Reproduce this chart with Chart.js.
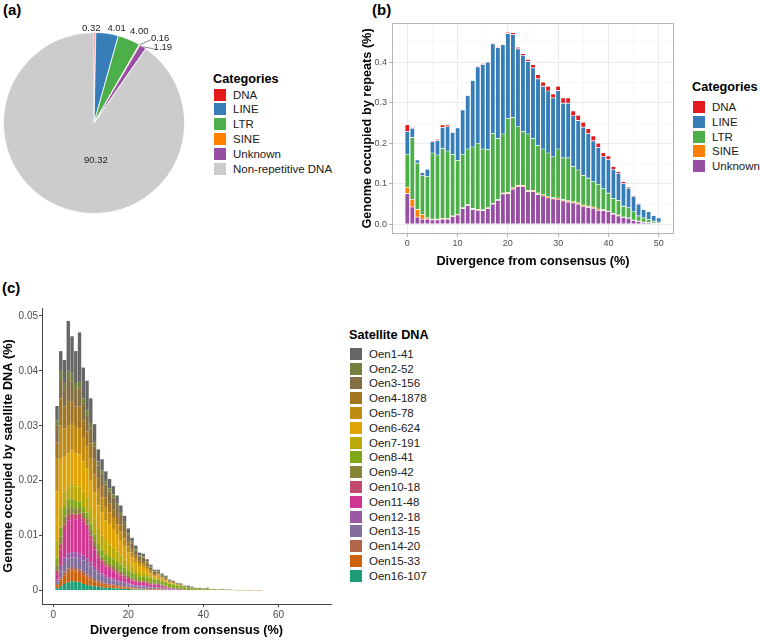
<!DOCTYPE html>
<html>
<head>
<meta charset="utf-8">
<script src="https://cdn.jsdelivr.net/npm/chart.js@4.4.1/dist/chart.umd.min.js"></script>
<style>
  body { margin: 0; background: #fff; width: 760px; height: 640px; position: relative; overflow: hidden;
         font-family: "Liberation Sans", Arial, Helvetica, sans-serif; color: #000; }
  canvas { position: absolute; }
  .tag { position: absolute; font-weight: bold; font-size: 15px; line-height: 16px; }
  .legend { position: absolute; top: 0; }
  .lg-title { position: absolute; left: 0; font-weight: bold; font-size: 12.7px; line-height: 16px; white-space: nowrap; }
  .lg-key { position: absolute; left: 0; width: 14px; height: 14px; box-sizing: border-box; border: 0.5px solid #fff; }
  .lg-text { position: absolute; left: 20px; font-size: 11.5px; line-height: 14px; white-space: nowrap; color: #1a1a1a; }
</style>
</head>
<body>
<div class="tag" style="left:3px;top:2px">(a)</div>
<div class="tag" style="left:372px;top:2px">(b)</div>
<div class="tag" style="left:2px;top:280px">(c)</div>

<canvas id="pie-chart" width="200" height="230" style="left:0;top:0"></canvas>
<canvas id="repeat-chart" width="320" height="272" style="left:360px;top:0"></canvas>
<canvas id="satellite-chart" width="340" height="370" style="left:0;top:270px"></canvas>

<div id="legend-a" class="legend" style="left:213px"></div>
<div id="legend-b" class="legend" style="left:692px"></div>
<div id="legend-c" class="legend" style="left:349px"></div>

<script>
// (a) genome composition, %
const pieCategories = ['DNA', 'LINE', 'LTR', 'SINE', 'Unknown', 'Non-repetitive DNA'];
const pieValues = [0.32, 4.01, 4.00, 0.16, 1.19, 90.32];
const pieColors = ['#E41A1C', '#377EB8', '#4DAF4A', '#FF7F00', '#984EA3', '#CCCCCC'];
// where each value label sits, as a fraction of the pie radius from its centre
const pieLabelAnchors = [[-0.03, -1.04], [0.25, -1.04], [0.5, -1.01], [0.73, -0.93], [0.76, -0.83], [0.02, 0.41]];
const pieLeaderLines = [false, false, false, true, true, false];

// (b) repeat landscape, one bar per divergence %
const repeatTypes = ['DNA', 'LINE', 'LTR', 'SINE', 'Unknown'];
const repeatColors = ['#E41A1C', '#377EB8', '#4DAF4A', '#FF7F00', '#984EA3'];
const divergenceB = Array.from({ length: 51 }, (_, i) => i);
const dnaB = [0.017, 0.002, 0.002, 0.001, 0.001, 0.002, 0.003, 0.006, 0.004, 0.001, 0.002,
  0.001, 0.001, 0.001, 0.002, 0.003, 0.002, 0.002, 0.003, 0.001, 0.003,
  0.005, 0.004, 0.004, 0.005, 0.008, 0.010, 0.010, 0.012, 0.010, 0.011,
  0.013, 0.013, 0.012, 0.013, 0.012, 0.012, 0.012, 0.010, 0.010, 0.009,
  0.007, 0.004, 0.004, 0.003, 0.003, 0.002, 0.001, 0.001, 0.0005, 0.0005];
const lineB = [0.056, 0.023, 0.008, 0.008, 0.018, 0.028, 0.036, 0.052, 0.060, 0.055, 0.080,
  0.109, 0.132, 0.164, 0.188, 0.208, 0.215, 0.221, 0.224, 0.220, 0.210,
  0.204, 0.192, 0.188, 0.179, 0.174, 0.164, 0.155, 0.153, 0.145, 0.144,
  0.135, 0.135, 0.125, 0.122, 0.119, 0.110, 0.101, 0.091, 0.079, 0.083,
  0.072, 0.067, 0.056, 0.048, 0.037, 0.029, 0.021, 0.019, 0.014, 0.010];
const ltrB = [0.082, 0.152, 0.114, 0.095, 0.102, 0.163, 0.158, 0.172, 0.166, 0.151, 0.133,
  0.132, 0.137, 0.152, 0.163, 0.150, 0.144, 0.172, 0.151, 0.146, 0.182,
  0.174, 0.145, 0.133, 0.139, 0.128, 0.118, 0.113, 0.108, 0.101, 0.121,
  0.103, 0.106, 0.087, 0.081, 0.073, 0.069, 0.062, 0.061, 0.052, 0.044,
  0.037, 0.036, 0.027, 0.025, 0.020, 0.013, 0.010, 0.0075, 0.0045, 0.003];
const sineB = [0.015, 0.019, 0.019, 0.012, 0.003, 0.002, 0.002, 0.002, 0.002, 0.002, 0.002,
  0.002, 0.002, 0.002, 0.002, 0.002, 0.002, 0.002, 0.002, 0.002, 0.003,
  0.003, 0.003, 0.003, 0.003, 0.003, 0.003, 0.003, 0.003, 0.003, 0.003,
  0.003, 0.003, 0.003, 0.003, 0.003, 0.003, 0.003, 0.003, 0.002, 0.002,
  0.002, 0.002, 0.001, 0.001, 0.001, 0.001, 0.001, 0.0005, 0.0005, 0.0005];
const unknownB = [0.076, 0.043, 0.018, 0.013, 0.013, 0.011, 0.011, 0.013, 0.013, 0.019, 0.023,
  0.039, 0.047, 0.037, 0.035, 0.034, 0.039, 0.050, 0.059, 0.075, 0.076,
  0.087, 0.093, 0.093, 0.081, 0.081, 0.074, 0.070, 0.065, 0.063, 0.062,
  0.058, 0.055, 0.053, 0.050, 0.045, 0.042, 0.040, 0.035, 0.034, 0.031,
  0.025, 0.021, 0.017, 0.015, 0.010, 0.007, 0.005, 0.004, 0.003, 0.0025];
const repeatSeries = [dnaB, lineB, ltrB, sineB, unknownB];

// (c) satellite DNA landscape, divergence 1..55 %
const satNames = ['Oen1-41', 'Oen2-52', 'Oen3-156', 'Oen4-1878', 'Oen5-78', 'Oen6-624', 'Oen7-191', 'Oen8-41',
  'Oen9-42', 'Oen10-18', 'Oen11-48', 'Oen12-18', 'Oen13-15', 'Oen14-20', 'Oen15-33', 'Oen16-107'];
const satColors = ['#666666', '#748040', '#846E44', '#A27522', '#C08B12', '#DEA406', '#BBA90B', '#80A718',
  '#88853B', '#C44A6D', '#D03792', '#9B58A5', '#826E9C', '#B16649', '#CC630A', '#1B9E77'];
const divergenceC = Array.from({ length: 55 }, (_, i) => i + 1);
const oen1 = [0.0026, 0.0036, 0.0042, 0.0091, 0.0068, 0.0058, 0.0090, 0.0056, 0.0054, 0.0045, 0.0033, 0.0022, 0.0020, 0.0018,
  0.0017, 0.0015, 0.0014, 0.0012, 0.0011, 0.0009, 0.0007, 0.0006, 0.0005, 0.0005, 0.0004, 0.0003, 0.0003, 0.0002,
  0.0002, 0.0002, 0.0001, 0.0001, 0.0001, 0.0001, 0.0001, 0.0001, 0.0001, 0.0001, 0.0001, 0.0001, 0.0001];
const oen2 = [0.0010, 0.0015, 0.0013, 0.0015, 0.0015, 0.0013, 0.0012, 0.0010, 0.0010, 0.0010, 0.0008, 0.0007, 0.0006, 0.0006,
  0.0006, 0.0006, 0.0005, 0.0005, 0.0004, 0.0003, 0.0003, 0.0003, 0.0002, 0.0002, 0.0002, 0.0002, 0.0001, 0.0001,
  0.0001, 0.0001, 0.0001, 0.0001, 0.0001, 0.0001, 0.0001, 0.0002, 0.0001, 0.0001, 0.0001, 0.0001, 0.0001, 0.0001,
  0.0001, 0.0001, 0.0001, 0.0001, 0.0001, 0.00004, 0.00004, 0.00003];
const oen3 = [0.0030, 0.0035, 0.0030, 0.0040, 0.0035, 0.0030, 0.0033, 0.0030, 0.0028, 0.0027, 0.0024, 0.0023, 0.0023, 0.0023,
  0.0022, 0.0022, 0.0020, 0.0018, 0.0016, 0.0013, 0.0011, 0.0009, 0.0008, 0.0008, 0.0007, 0.0006, 0.0004, 0.0004,
  0.0003, 0.0003, 0.0002, 0.0002, 0.0001, 0.0001, 0.0001, 0.0001, 0.0001];
const oen4 = [0.0030, 0.0050, 0.0040, 0.0045, 0.0040, 0.0037, 0.0040, 0.0032, 0.0028, 0.0028, 0.0026, 0.0020, 0.0020, 0.0018,
  0.0016, 0.0015, 0.0014, 0.0012, 0.0010, 0.0008, 0.0006, 0.0005, 0.0004, 0.0004, 0.0003, 0.0002, 0.0002, 0.0002,
  0.0001, 0.0001, 0.0001];
const oen5 = [0.0060, 0.0060, 0.0050, 0.0050, 0.0050, 0.0048, 0.0047, 0.0043, 0.0040, 0.0040, 0.0034, 0.0030, 0.0028, 0.0024,
  0.0022, 0.0020, 0.0018, 0.0016, 0.0014, 0.0011, 0.0009, 0.0007, 0.0006, 0.0005, 0.0004, 0.0003, 0.0002, 0.0002,
  0.0002, 0.0001, 0.0001, 0.0001, 0.0001, 0.0001];
const oen6 = [0.0090, 0.0090, 0.0065, 0.0060, 0.0060, 0.0060, 0.0058, 0.0055, 0.0052, 0.0050, 0.0048, 0.0043, 0.0042, 0.0038,
  0.0036, 0.0034, 0.0031, 0.0028, 0.0024, 0.0019, 0.0016, 0.0013, 0.0010, 0.0010, 0.0007, 0.0005, 0.0004, 0.0004,
  0.0003, 0.0002, 0.0001, 0.0001];
const oen7 = [0.0030, 0.0035, 0.0028, 0.0025, 0.0027, 0.0027, 0.0028, 0.0028, 0.0028, 0.0028, 0.0028, 0.0027, 0.0026, 0.0024,
  0.0023, 0.0021, 0.0019, 0.0017, 0.0015, 0.0013, 0.0011, 0.0009, 0.0008, 0.0007, 0.0006, 0.0005, 0.0003, 0.0003,
  0.0002, 0.0002, 0.0001, 0.0001, 0.0001, 0.0001];
const oen8 = [0.0015, 0.0017, 0.0017, 0.0015, 0.0016, 0.0013, 0.0012, 0.0010, 0.0012, 0.0012, 0.0012, 0.0012, 0.0012, 0.0011,
  0.0011, 0.0011, 0.0011, 0.0011, 0.0010, 0.0009, 0.0009, 0.0008, 0.0007, 0.0007, 0.0007, 0.0006, 0.0006, 0.0006,
  0.0006, 0.0006, 0.0006, 0.0006, 0.0005, 0.0005, 0.0004, 0.0004, 0.0003, 0.0003, 0.0003, 0.0002, 0.0003, 0.0002,
  0.0002, 0.0001, 0.0002, 0.0001, 0.0001, 0.00008, 0.00006, 0.00005, 0.00004, 0.00003, 0.00002];
const oen9 = [0.0009, 0.0013, 0.0015, 0.0014, 0.0012, 0.0012, 0.0010, 0.0010, 0.0010, 0.0010, 0.0009, 0.0008, 0.0007, 0.0007,
  0.0007, 0.0007, 0.0007, 0.0006, 0.0005, 0.0005, 0.0004, 0.0004, 0.0003, 0.0003, 0.0003, 0.0003, 0.0002, 0.0002,
  0.0002, 0.0002, 0.0001, 0.0001, 0.0001, 0.0001, 0.0001, 0.0001, 0.0001];
const oen10 = [0.0006, 0.0010, 0.0008, 0.0008, 0.0008, 0.0008, 0.0008, 0.0007, 0.0008, 0.0007, 0.0006, 0.0005, 0.0005, 0.0004,
  0.0004, 0.0004, 0.0003, 0.0003, 0.0003, 0.0002, 0.0002, 0.0002, 0.0002, 0.0002, 0.0002, 0.0001, 0.0001, 0.0001,
  0.0001, 0.0001, 0.0001, 0.0001, 0.0001];
const oen11 = [0.0010, 0.0030, 0.0052, 0.0060, 0.0062, 0.0060, 0.0064, 0.0061, 0.0054, 0.0042, 0.0032, 0.0024, 0.0019, 0.0017,
  0.0015, 0.0013, 0.0012, 0.0010, 0.0009, 0.0008, 0.0007, 0.0006, 0.0005, 0.0005, 0.0004, 0.0004, 0.0004, 0.0005,
  0.0003, 0.0002, 0.0001, 0.0001, 0, 0.0001, 0.0001];
const oen12 = [0.0004, 0.0010, 0.0010, 0.0010, 0.0010, 0.0010, 0.0010, 0.0009, 0.0008, 0.0007, 0.0006, 0.0005, 0.0004, 0.0004,
  0.0004, 0.0004, 0.0003, 0.0003, 0.0003, 0.0002, 0.0002, 0.0002, 0.0002, 0.0002, 0.0002, 0.0002, 0.0001, 0.0001,
  0.0001, 0.0001, 0.0001, 0, 0.0001];
const oen13 = [0.0004, 0.0011, 0.0017, 0.0018, 0.0017, 0.0019, 0.0020, 0.0021, 0.0021, 0.0019, 0.0016, 0.0013, 0.0012, 0.0010,
  0.0008, 0.0007, 0.0006, 0.0005, 0.0004, 0.0004, 0.0003, 0.0003, 0.0003, 0.0003, 0.0003, 0.0002, 0.0002, 0.0002,
  0.0002, 0.0001, 0.0001, 0.0001];
const oen14 = [0.0002, 0.0004, 0.0005, 0.0006, 0.0006, 0.0006, 0.0006, 0.0006, 0.0005, 0.0005, 0.0004, 0.0004, 0.0003, 0.0003,
  0.0003, 0.0003, 0.0003, 0.0003, 0.0003, 0.0002, 0.0002, 0.0001, 0.0001, 0.0001, 0.0001, 0.0001, 0.0001, 0.0001,
  0, 0.0001, 0, 0, 0.0001, 0.0001];
const oen15 = [0.0006, 0.0012, 0.0016, 0.0019, 0.0020, 0.0019, 0.0017, 0.0016, 0.0014, 0.0011, 0.0009, 0.0007, 0.0006, 0.0005,
  0.0004, 0.0004, 0.0003, 0.0003, 0.0002, 0.0002, 0.0002, 0.0002, 0.0001, 0.0001, 0.0001, 0.0001, 0.0001, 0.0001,
  0.0001, 0, 0.0001, 0.0001, 0, 0, 0, 0, 0, 0, 0, 0, 0, 0,
  0, 0, 0, 0, 0, 0, 0, 0, 0, 0.00002, 0.00005, 0.00004, 0.00002];
const oen16 = [0.0004, 0.0008, 0.0012, 0.0015, 0.0017, 0.0016, 0.0015, 0.0012, 0.0010, 0.0009, 0.0008, 0.0007, 0.0006, 0.0005,
  0.0005, 0.0004, 0.0004, 0.0003, 0.0003, 0.0003, 0.0002, 0.0002, 0.0002, 0.0002, 0.0001, 0.0001, 0.0001, 0.0001,
  0.0001, 0.0001];
const satSeries = [oen1, oen2, oen3, oen4, oen5, oen6, oen7, oen8, oen9, oen10, oen11, oen12, oen13, oen14, oen15, oen16];

const FONT = '"Liberation Sans", Arial, Helvetica, sans-serif';
Chart.defaults.font.family = FONT;
Chart.defaults.animation = false;
Chart.defaults.responsive = false;
Chart.defaults.plugins.legend.display = false;
Chart.defaults.plugins.tooltip.enabled = false;

// HTML legends in the ggplot style
function buildLegend(id, title, names, colors, titleTop, rowTop) {
    const box = document.getElementById(id);
    let html = `<div class="lg-title" style="top:${titleTop}px">${title}</div>`;
    names.forEach((name, i) => {
        const top = rowTop + i * 14.8;
        html += `<div class="lg-key" style="top:${top}px;background:${colors[i]}"></div>`;
        html += `<div class="lg-text" style="top:${top}px">${name}</div>`;
    });
    box.innerHTML = html;
}
buildLegend('legend-a', 'Categories', pieCategories, pieColors, 71, 87.5);
buildLegend('legend-b', 'Categories', repeatTypes, repeatColors, 79, 100);
buildLegend('legend-c', 'Satellite DNA', satNames, satColors, 327, 346.7);

// (a) pie with value labels
const pieLabels = {
    id: 'pieLabels',
    afterDatasetsDraw(chart) {
        const ctx = chart.ctx;
        const arcs = chart.getDatasetMeta(0).data;
        ctx.save();
        ctx.font = '9.5px ' + FONT;
        ctx.fillStyle = '#222';
        ctx.textAlign = 'center';
        ctx.textBaseline = 'middle';
        arcs.forEach((arc, i) => {
            const r = arc.outerRadius;
            const lx = arc.x + pieLabelAnchors[i][0] * r;
            const ly = arc.y + pieLabelAnchors[i][1] * r;
            if (pieLeaderLines[i]) {
                const mid = (arc.startAngle + arc.endAngle) / 2;
                ctx.strokeStyle = '#444';
                ctx.lineWidth = 0.6;
                ctx.beginPath();
                ctx.moveTo(arc.x + Math.cos(mid) * r, arc.y + Math.sin(mid) * r);
                ctx.lineTo(lx - 9, ly + 1);
                ctx.stroke();
            }
            ctx.fillText(pieValues[i].toFixed(2), lx, ly);
        });
        ctx.restore();
    }
};

new Chart(document.getElementById('pie-chart'), {
    type: 'pie',
    data: {
        labels: pieCategories,
        datasets: [{ data: pieValues, backgroundColor: pieColors, borderColor: '#fff', borderWidth: 0.8 }]
    },
    options: { layout: { padding: { left: 3, top: 32, right: 15, bottom: 16 } } },
    plugins: [pieLabels]
});

// grey panel border like theme_bw
const panelBorder = {
    id: 'panelBorder',
    afterDraw(chart) {
        const a = chart.chartArea;
        const ctx = chart.ctx;
        ctx.save();
        ctx.strokeStyle = '#b5b5b5';
        ctx.lineWidth = 1;
        ctx.strokeRect(Math.round(a.left) + 0.5, Math.round(a.top) + 0.5,
            Math.round(a.right - a.left) - 1, Math.round(a.bottom - a.top) - 1);
        ctx.restore();
    }
};

const isMajor = (v, step) => Math.abs(v / step - Math.round(v / step)) < 1e-6;

// (b) stacked bars, Unknown at the bottom and DNA on top
const stackOrderB = [4, 3, 2, 1, 0];
new Chart(document.getElementById('repeat-chart'), {
    type: 'bar',
    data: {
        labels: divergenceB,
        datasets: stackOrderB.map(i => ({
            label: repeatTypes[i],
            data: repeatSeries[i],
            backgroundColor: repeatColors[i],
            borderColor: '#fff',
            borderWidth: 0.3,
            borderSkipped: false,
            barPercentage: 0.9,
            categoryPercentage: 1
        }))
    },
    options: {
        layout: { padding: { left: 0, top: 23, right: 6, bottom: 0 } },
        scales: {
            x: {
                type: 'linear', stacked: true, offset: false, min: -3.05, max: 53.05,
                afterFit: s => { s.height = 38; },
                border: { display: false },
                grid: {
                    offset: false, tickLength: 3,
                    color: c => (c.tick && isMajor(c.tick.value, 10)) ? '#ebebeb' : '#f4f4f4',
                    lineWidth: c => (c.tick && isMajor(c.tick.value, 10)) ? 1 : 0.6,
                    tickColor: c => (c.tick && isMajor(c.tick.value, 10)) ? '#b3b3b3' : 'rgba(0,0,0,0)'
                },
                ticks: {
                    stepSize: 5, includeBounds: false, autoSkip: false, maxRotation: 0, padding: 1,
                    color: '#4d4d4d', font: { size: 9 },
                    callback: v => isMajor(v, 10) ? String(v) : ''
                },
                title: { display: true, text: 'Divergence from consensus (%)', color: '#000',
                    font: { size: 12.7, weight: 'bold' }, padding: { top: 0, bottom: 3 } }
            },
            y: {
                stacked: true, min: -0.0237, max: 0.4967,
                afterFit: s => { s.width = 32; },
                border: { display: false },
                grid: {
                    tickLength: 3,
                    color: c => (c.tick && isMajor(c.tick.value, 0.1)) ? '#ebebeb' : '#f4f4f4',
                    lineWidth: c => (c.tick && isMajor(c.tick.value, 0.1)) ? 1 : 0.6,
                    tickColor: c => (c.tick && isMajor(c.tick.value, 0.1)) ? '#b3b3b3' : 'rgba(0,0,0,0)'
                },
                ticks: {
                    stepSize: 0.05, includeBounds: false, autoSkip: false, padding: 2,
                    color: '#4d4d4d', font: { size: 9 },
                    callback: v => isMajor(v, 0.1) ? v.toFixed(1) : ''
                },
                title: { display: true, text: 'Genome occupied by repeats (%)', color: '#000',
                    font: { size: 12.7, weight: 'bold' }, padding: { top: 0, bottom: 0 } }
            }
        }
    },
    plugins: [panelBorder]
});

// (c) satellite DNA, Oen16 at the bottom and Oen1 on top
const stackOrderC = satNames.map((_, i) => satNames.length - 1 - i);
new Chart(document.getElementById('satellite-chart'), {
    type: 'bar',
    data: {
        labels: divergenceC,
        datasets: stackOrderC.map(i => ({
            label: satNames[i],
            data: satSeries[i],
            backgroundColor: satColors[i],
            borderWidth: 0,
            barPercentage: 0.9,
            categoryPercentage: 1
        }))
    },
    options: {
        layout: { padding: { left: 0, top: 38, right: 9, bottom: 0 } },
        scales: {
            x: {
                type: 'linear', stacked: true, offset: false, min: -3, max: 74,
                afterFit: s => { s.height = 36; },
                border: { display: true, color: '#444', width: 1 },
                grid: { offset: false, drawOnChartArea: false, tickLength: 3, tickColor: '#444' },
                ticks: { stepSize: 20, includeBounds: false, maxRotation: 0, padding: 2,
                    color: '#4d4d4d', font: { size: 10 } },
                title: { display: true, text: 'Divergence from consensus (%)', color: '#000',
                    font: { size: 12.7, weight: 'bold' }, padding: { top: 0, bottom: 1.5 } }
            },
            y: {
                stacked: true, min: -0.00245, max: 0.05145,
                afterFit: s => { s.width = 42; },
                border: { display: true, color: '#444', width: 1 },
                grid: { drawOnChartArea: false, tickLength: 3, tickColor: '#444' },
                ticks: { stepSize: 0.01, includeBounds: false, padding: 1,
                    color: '#4d4d4d', font: { size: 10 },
                    callback: v => v === 0 ? '0' : v.toFixed(2) },
                title: { display: true, text: 'Genome occupied by satellite DNA (%)', color: '#000',
                    font: { size: 12.7, weight: 'bold' }, padding: { top: 1, bottom: 0 } }
            }
        }
    }
});
</script>
</body>
</html>
